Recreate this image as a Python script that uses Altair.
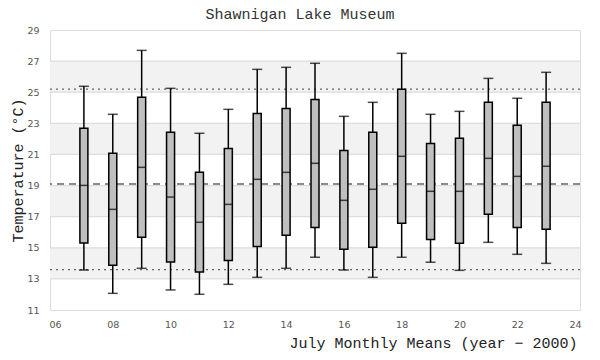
import altair as alt
import pandas as pd

years = [7, 8, 9, 10, 11, 12, 13, 14, 15, 16, 17, 18, 19, 20, 21, 22, 23]
whisker_lo = [13.57, 12.07, 13.68, 12.29, 12.01, 12.65, 13.10, 13.68, 14.39, 13.57, 13.10, 14.39, 14.07, 13.55, 15.35, 14.58, 14.00]
q1 = [15.31, 13.87, 15.67, 14.09, 13.44, 14.19, 15.09, 15.80, 16.31, 14.90, 15.03, 16.57, 15.54, 15.29, 17.15, 16.31, 16.19]
median = [19.01, 17.47, 20.17, 18.26, 16.64, 17.79, 19.40, 19.85, 20.43, 18.05, 18.76, 20.88, 18.63, 18.63, 20.75, 19.59, 20.24]
q3 = [22.68, 21.07, 24.67, 22.42, 19.85, 21.39, 23.64, 23.96, 24.54, 21.25, 22.42, 25.19, 21.71, 22.04, 24.35, 22.87, 24.35]
whisker_hi = [25.38, 23.58, 27.69, 25.25, 22.36, 23.90, 26.47, 26.60, 26.86, 23.45, 24.35, 27.50, 23.58, 23.77, 25.89, 24.61, 26.28]

band_lo = [13, 17, 21, 25]
band_hi = [15, 19, 23, 27]
grid_vals = [13, 15, 17, 19, 21, 23, 25, 27]
y_ticks = [11, 13, 15, 17, 19, 21, 23, 25, 27, 29]
x_ticks = [6, 8, 10, 12, 14, 16, 18, 20, 22, 24]
ref_upper = 25.2
ref_mean = 19.1
ref_lower = 13.6

df = pd.DataFrame({"year": years, "lo": whisker_lo, "q1": q1, "med": median,
                   "q3": q3, "hi": whisker_hi})
bands = pd.DataFrame({"lo": band_lo, "hi": band_hi})
grid = pd.DataFrame({"v": grid_vals})
refs_dot = pd.DataFrame({"v": [ref_upper, ref_lower]})
refs_dash = pd.DataFrame({"v": [ref_mean]})

W, H = 530, 280
xs = alt.Scale(domain=[6, 24], nice=False, zero=False)
ys = alt.Scale(domain=[11, 29], nice=False, zero=False)

LABEL_FONT = "DejaVu Sans"
MONO = "Liberation Mono"

x_axis = alt.Axis(values=x_ticks, format="02d", grid=False, domain=False, ticks=False,
                  tickSize=0, labelPadding=9, labelFont=LABEL_FONT, labelFontSize=9.5,
                  labelColor="#555555", labelOverlap=False,
                  title="July Monthly Means (year \u2212 2000)",
                  titleFont=MONO, titleFontSize=15, titleFontWeight="normal",
                  titleColor="#222222", titleX=527, titleY=32, titleAlign="right",
                  titleBaseline="middle", titleAnchor="end", titleLimit=600)
y_axis = alt.Axis(values=y_ticks, format="d", grid=False, domain=False, ticks=False,
                  tickSize=0, labelPadding=11, labelFont=LABEL_FONT, labelFontSize=9.5,
                  labelColor="#555555", labelOverlap=False, labelFlush=False,
                  title="Temperature (\u00b0C)",
                  titleFont=MONO, titleFontSize=15, titleFontWeight="normal",
                  titleColor="#222222", titlePadding=1, titleLimit=400)


def Y(field):
    return alt.Y(field, scale=ys, axis=y_axis)


def X(field):
    return alt.X(field, scale=xs, axis=x_axis)


band_layer = alt.Chart(bands).mark_rect(color="#f2f2f2").encode(
    x=alt.value(0), x2=alt.value(W), y=Y("lo:Q"), y2="hi:Q")

grid_layer = alt.Chart(grid).mark_rule(color="#dddddd", strokeWidth=1.2).encode(y=Y("v:Q"))

dot_layer = alt.Chart(refs_dot).mark_rule(color="#666666", strokeWidth=1.3,
                                          strokeDash=[2, 4]).encode(y=Y("v:Q"))
dash_layer = alt.Chart(refs_dash).mark_rule(color="#666666", strokeWidth=1.3,
                                            strokeDash=[7, 5]).encode(y=Y("v:Q"))

base = alt.Chart(df)
whisk = base.mark_rule(color="black", strokeWidth=1.5).encode(
    x=X("year:Q"), y=Y("lo:Q"), y2="hi:Q")
cap_lo = base.mark_tick(color="black", orient="horizontal", size=10, thickness=1.5).encode(
    x=X("year:Q"), y=Y("lo:Q"))
cap_hi = base.mark_tick(color="black", orient="horizontal", size=10, thickness=1.5).encode(
    x=X("year:Q"), y=Y("hi:Q"))
box = base.mark_bar(size=8, fill="#bfbfbf", stroke="black", strokeWidth=1.5).encode(
    x=X("year:Q"), y=Y("q1:Q"), y2="q3:Q")
med = base.mark_tick(color="black", orient="horizontal", size=8, thickness=1.5).encode(
    x=X("year:Q"), y=Y("med:Q"))

chart = alt.layer(band_layer, grid_layer, dot_layer, dash_layer, whisk, cap_lo, cap_hi,
                  box, med).properties(
    width=W, height=H,
    title=alt.TitleParams("Shawnigan Lake Museum", font=MONO, fontSize=15,
                          fontWeight="normal", color="#333333", anchor="middle",
                          dx=-15, offset=3),
    autosize=alt.AutoSizeParams(type="none"),
    padding={"left": 42, "top": 22, "right": 10, "bottom": 42},
).configure_view(stroke="#d9d9d9", strokeWidth=1.5).configure_axis(
    labelOverlap=False).configure(background="white")

chart.save("out.html", embed_options={"renderer": "svg", "actions": False})
